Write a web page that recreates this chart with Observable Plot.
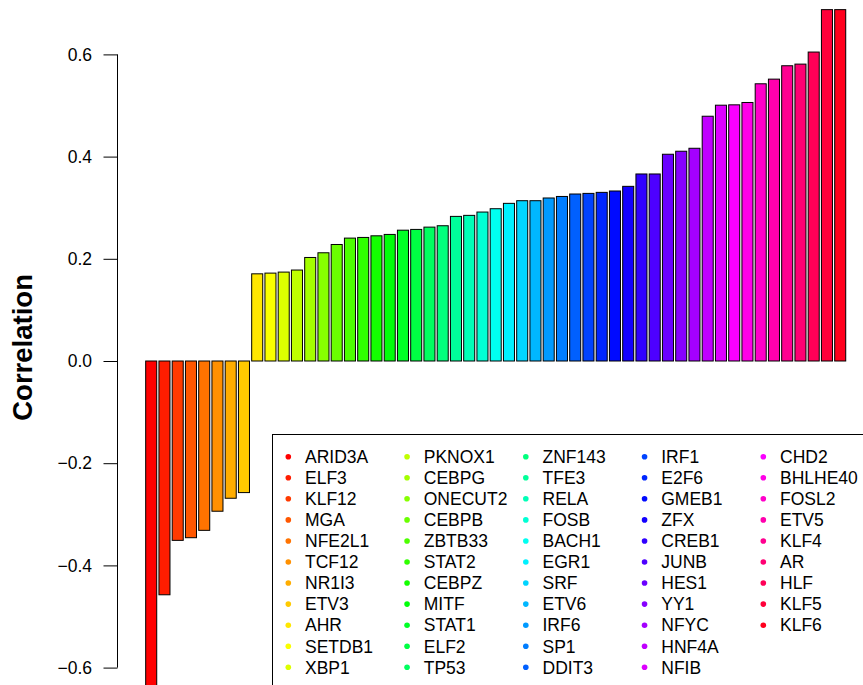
<!DOCTYPE html>
<html><head><meta charset="utf-8">
<script src="https://cdn.jsdelivr.net/npm/d3@7"></script>
<script src="https://cdn.jsdelivr.net/npm/@observablehq/plot@0.6"></script>
<style>html,body{margin:0;padding:0;background:#fff;overflow:hidden}</style>
</head><body><div id="chart"></div>
<script>
const names = ["ARID3A","ELF3","KLF12","MGA","NFE2L1","TCF12","NR1I3","ETV3","AHR","SETDB1","XBP1",
  "PKNOX1","CEBPG","ONECUT2","CEBPB","ZBTB33","STAT2","CEBPZ","MITF","STAT1","ELF2","TP53",
  "ZNF143","TFE3","RELA","FOSB","BACH1","EGR1","SRF","ETV6","IRF6","SP1","DDIT3",
  "IRF1","E2F6","GMEB1","ZFX","CREB1","JUNB","HES1","YY1","NFYC","HNF4A","NFIB",
  "CHD2","BHLHE40","FOSL2","ETV5","KLF4","AR","HLF","KLF5","KLF6"];
const values = [-0.66,-0.4575,-0.351,-0.3458,-0.3314,-0.294,-0.2686,-0.2575,0.1706,0.172,0.174,
  0.178,0.2026,0.2118,0.228,0.2405,0.2418,0.245,0.2477,0.256,0.2575,0.262,
  0.2647,0.283,0.285,0.2915,0.298,0.3085,0.3137,0.3137,0.319,0.322,0.3268,
  0.328,0.330,0.3327,0.3418,0.366,0.366,0.4046,0.4105,0.4163,0.479,0.5006,0.5013,
  0.5059,0.5425,0.5516,0.5778,0.581,0.6046,0.6876,0.6876];
const yTicks = [-0.6,-0.4,-0.2,0,0.2,0.4,0.6];
const yLabel = "Correlation";
const legendRows = 11;

const colors = names.map((_, i) => d3.hsl(360 * i / names.length, 1, 0.5).formatHex());
const data = names.map((name, i) => ({name, value: values[i]}));
const FONT = "'Liberation Sans', Arial, Helvetica, sans-serif";

function axisLine(index, {y}, channels, {marginLeft}) {
  const g = d3.create("svg:g");
  g.append("line")
    .attr("x1", marginLeft).attr("x2", marginLeft)
    .attr("y1", y(d3.max(yTicks))).attr("y2", y(d3.min(yTicks)))
    .attr("stroke", "black").attr("stroke-width", 1);
  return g.node();
}

function axisLabel() {
  const g = d3.create("svg:g");
  g.append("text")
    .attr("transform", "translate(31.7,347.4) rotate(-90)")
    .attr("text-anchor", "middle")
    .attr("font-family", FONT).attr("font-weight", "bold").attr("font-size", 27.5)
    .attr("fill", "black")
    .text(yLabel);
  return g.node();
}

function legend(index, {color}) {
  const box = {x: 272.5, y: 434.5, w: 600, h: 300};
  const first = {x: 288.3, y: 456.7}, colStep = 118.75, rowStep = 21.06;
  const g = d3.create("svg:g").attr("font-family", FONT).attr("font-size", 17.5).attr("text-anchor", "start");
  g.append("rect").attr("x", box.x).attr("y", box.y).attr("width", box.w).attr("height", box.h)
    .attr("fill", "white").attr("stroke", "black").attr("stroke-width", 1);
  names.forEach((n, i) => {
    const cx = first.x + Math.floor(i / legendRows) * colStep;
    const cy = first.y + (i % legendRows) * rowStep;
    g.append("circle").attr("cx", cx).attr("cy", cy).attr("r", 2.8).attr("fill", color(n));
    g.append("text").attr("x", cx + 16.7).attr("y", cy + 6.3).attr("fill", "black").attr("text-anchor", "start").text(n);
  });
  return g.node();
}

const plot = Plot.plot({
  width: 863,
  height: 685,
  marginTop: 0,
  marginBottom: 0,
  marginLeft: 117.5,
  marginRight: 0,
  style: {fontFamily: FONT, background: "white", color: "black"},
  x: {type: "band", domain: names, paddingInner: 1/6, paddingOuter: 1.7155, align: 0.62, round: false, axis: null},
  y: {domain: [-(685 - 361) / 511, 361 / 511]},
  color: {type: "ordinal", domain: names, range: colors},
  marks: [
    Plot.barY(data, {x: "name", y: "value", fill: "name", stroke: "black", strokeWidth: 1}),
    axisLine,
    Plot.axisY(yTicks, {tickSize: 14, tickPadding: 12, fontSize: 17.5, color: "black", label: null,
      tickFormat: d => (d < 0 ? "\u2212" : "") + Math.abs(d).toFixed(1)}),
    axisLabel,
    legend
  ]
});
document.getElementById("chart").appendChild(plot);
</script>
</body></html>
